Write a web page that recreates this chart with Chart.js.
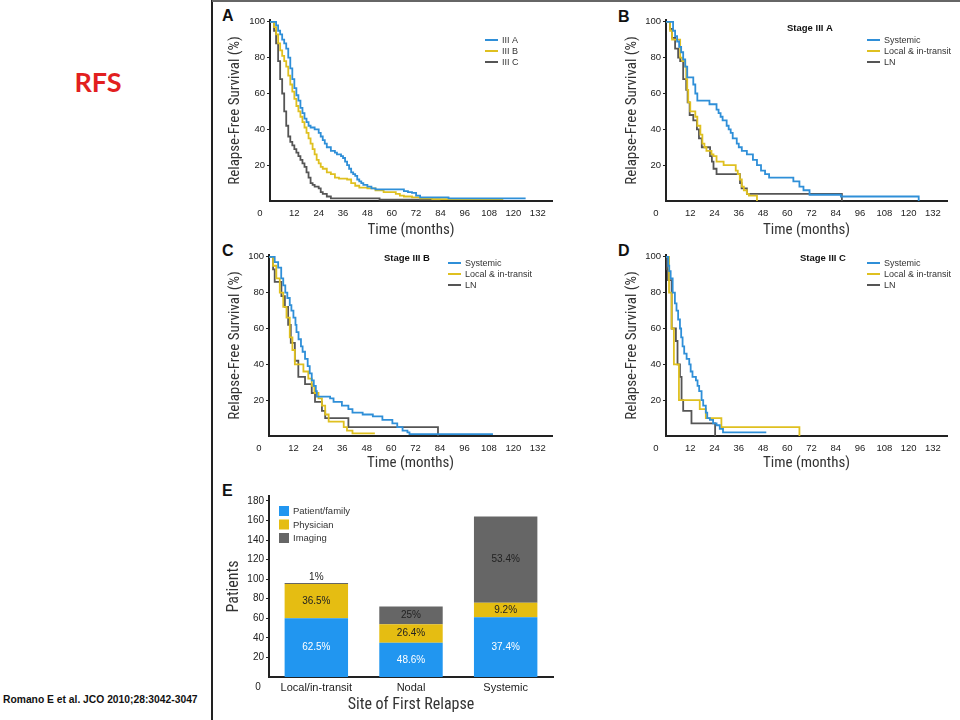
<!DOCTYPE html>
<html><head><meta charset="utf-8">
<script src="https://cdn.jsdelivr.net/npm/chart.js@4.4.0/dist/chart.umd.min.js"></script>
<style>
html,body{margin:0;padding:0;background:#fff;}
body{width:960px;height:720px;position:relative;overflow:hidden;font-family:'Liberation Sans',Arial,sans-serif;}
.cv{position:absolute;}
.lbl{position:absolute;font-weight:bold;font-size:16px;line-height:16px;color:#111;}
</style></head><body>
<div style="position:absolute;left:211px;top:0;width:1.5px;height:720px;background:#222"></div>
<div style="position:absolute;left:212px;top:0;width:748px;height:2px;background:#666"></div>
<div style="position:absolute;left:60px;top:66px;width:76px;text-align:center;font-family:Lato,'Liberation Sans',sans-serif;font-weight:bold;font-size:27px;line-height:32px;color:#e21f1f">RFS</div>
<div style="position:absolute;left:3px;top:693px;font-family:'Liberation Sans',Arial,sans-serif;font-weight:bold;font-size:10.3px;line-height:14px;color:#111;white-space:nowrap">Romano E et al. JCO 2010;28:3042-3047</div>
<div class="lbl" style="left:222px;top:8px">A</div>
<div class="lbl" style="left:618px;top:9px">B</div>
<div class="lbl" style="left:222px;top:243px">C</div>
<div class="lbl" style="left:618px;top:243px">D</div>
<div class="lbl" style="left:222px;top:483px">E</div>
<canvas id="cA" class="cv" width="345" height="240" style="left:215px;top:0px"></canvas>
<canvas id="cB" class="cv" width="360" height="240" style="left:600px;top:0px"></canvas>
<canvas id="cC" class="cv" width="345" height="240" style="left:215px;top:235px"></canvas>
<canvas id="cD" class="cv" width="360" height="240" style="left:600px;top:235px"></canvas>
<canvas id="cE" class="cv" width="345" height="245" style="left:215px;top:475px"></canvas>
<script>
// ---------- DATA ----------
const xTicks = [12,24,36,48,60,72,84,96,108,120,132];
const yTicksKM = [20,40,60,80,100];

// Panel A: by stage
const A_labels = ['III A','III B','III C'];
const A_IIIA_t = [0,3,4,5,6,7,8,9,10,11,12,13,14,15,16,17,18,19,20,22,24,25,26,27,28,30,32,33,35,36,37,38,39,40,41,42,43,44,45,46,48,50,52,66,68,70,72,74,88,126];
const A_IIIA_s = [100,98,95,93,90,88,85,80,74,68,63,59,56,52,49,46,44,42,41,40,38,36,34,32,30,28,27,26,25,24,22,20,18,16,15,14,12,11,10,9,8,7,6.5,5.5,5,4.5,3,2,1.5,1.5];
const A_IIIB_t = [0,2,3,4,5,6,7,8,9,10,11,12,13,14,15,16,17,18,19,20,21,22,23,24,25,26,28,30,32,34,38,40,42,44,48,52,56,62,64,66,70,74,80,115];
const A_IIIB_s = [100,97,93,88,84,81,78,75,70,65,61,57,53,50,47,44,41,38,35,32,29,26,23,21,19,18,16,15,13,12.5,12,10,8.5,7.5,7,6,5,4,3,2.5,2,1.5,1,1];
const A_IIIC_t = [0,2,3,4,5,6,7,8,9,10,11,12,13,14,15,16,17,18,19,20,21,22,24,25,26,28,30,52,54,84];
const A_IIIC_s = [100,95,88,78,68,60,50,42,36,33,31,29,27,25,23,21,19,16,13,10,9,8,7,5,4,2.5,1.5,1.5,0.8,0.8];

const siteLabels = ['Systemic','Local & in-transit','LN'];
// Panel B: Stage III A
const B_sys_t = [0,3.5,4.5,5.5,6.5,7.5,8.5,9.5,10.5,13.5,14.5,15.5,21.5,25,26,27,28,30,31,32,33,35,36,37.5,40,43,45,47,49,51,63,66,68,71,86.5,125];
const B_sys_s = [100,95,92,89,86,83,79,75,69,65,60,56,54,51,49,47,45,42,40,38,35,32,30,28,26,23,20,17,15,13,11,8,6,3.5,2.5,0];
const B_loc_t = [0,2,3,7,8,9.5,10,10.5,11,12,14.5,15.5,17,18,19,20,22.5,23.5,25,28.5,34.5,35.5,36.5,37.5,38.5,40,41,45];
const B_loc_s = [100,95,90,80,78,75,68,62,55,50,47,42,37,32,30,28,26,25,22,20,17,15,12,8,6,4,3,0];
const B_ln_t = [0,2,3,4.5,6,7,8.5,10,10.7,11.7,13.5,15.3,16.3,17.7,21.8,22.7,23.5,25,36.6,37.4,40,87];
const B_ln_s = [100,96,91,85,80,78,68,62,55,48,45,40,35,30,25,22,18,15,10,7,4,0];

// Panel C: Stage III B
const C_sys_t = [0,2.8,4.5,6,7,8,9,10.2,11,12,13,13.5,14.5,15.7,16.5,17.7,19,20,21,22,23,23.5,30,31.7,35.8,39,41,46,51,55.7,60.6,63,65.6,68,69,110];
const C_sys_s = [100,97,94,88,84,80,77,73,70,66,62,58,54,50,47,43,39,35,31,28,25,22,21,19,17,15,13,12,11,9,7,5,3,2,1,1];
const C_loc_t = [0,2,3.6,5.3,7,8.6,10.2,11.5,12.7,16.9,19.3,21,22.3,24.3,26,27.6,29.3,36.7,38.3,41,52];
const C_loc_s = [100,95,88,80,72,66,55,48,40,36,32,28,24,21,17,12,8,5,3,1.5,1.5];
const C_ln_t = [0,2,2.8,6.1,7.8,9.4,10.7,12.7,14.4,17.7,21,22.6,26,27.6,39,83];
const C_ln_s = [100,93,86,78,72,62,52,42,33,29,24,19,14,10,5,0];

// Panel D: Stage III C
const D_sys_t = [0,1.1,1.6,2.3,3.3,4.4,5.2,6,6.9,7.5,8.2,9,10.2,11.5,12.2,13.1,14.8,15.6,16.4,17.6,18.4,19.7,20.4,21.7,23.3,25,26.6,28.2,49.6];
const D_sys_s = [100,95,92,88,80,74,70,65,60,55,50,46,43,40,36,33,31,28,25,20,17,13,10,9,7,6,4,2,2];
const D_loc_t = [0,1.5,2.8,3.9,6.4,16.7,19.7,27.4,66];
const D_loc_s = [100,80,60,40,20,15,10,5,0];
const D_ln_t = [0,0.5,1,2.8,4.9,5.7,6.9,7.7,8.5,12.6,24.3];
const D_ln_s = [100,93,87,60,53,40,33,20,14,7,0];

// Panel E: detection method by site of first relapse
const E_categories = ['Local/in-transit','Nodal','Systemic'];
const E_seriesNames = ['Patient/family','Physician','Imaging'];
const E_patient = [60,35,61];
const E_physician = [35,19,15];
const E_imaging = [1,18,88];
const E_pctPatient = ['62.5%','48.6%','37.4%'];
const E_pctPhysician = ['36.5%','26.4%','9.2%'];
const E_pctImaging = ['1%','25%','53.4%'];
const E_yTicks = [20,40,60,80,100,120,140,160,180];

// ---------- STYLE ----------
const BLUE = '#2f8fd8', YELLOW = '#dfc020', GRAY = '#555555';
const TICK_FONT = {family:"'Liberation Sans', Arial, sans-serif", size:9.5};
const TITLE_FONT = {family:"'Liberation Sans Narrow', 'Roboto Condensed', 'DejaVu Sans Condensed', 'Liberation Sans', sans-serif", size:15};
const TXT = '#222';

function pts(t, s){ return t.map((v,i)=>({x:v, y:s[i]})); }

const kmDeco = {
  id:'kmDeco',
  afterDraw(chart, args, o){
    const ctx = chart.ctx, ca = chart.chartArea;
    const xs = chart.scales.x, ys = chart.scales.y;
    ctx.save();
    ctx.fillStyle = TXT;
    ctx.font = "9.5px 'Liberation Sans', Arial, sans-serif";
    ctx.textAlign='center'; ctx.textBaseline='middle';
    ctx.fillText('0', xs.getPixelForValue(0) - 10, ys.getPixelForValue(0) + 12);
    // legend
    ctx.font = "9px 'Liberation Sans', Arial, sans-serif";
    ctx.textAlign='left';
    chart.data.datasets.forEach((d,i)=>{
      const x0 = ca.right - o.legendDx, y0 = ca.top + o.legendDy + i*11;
      ctx.strokeStyle = d.borderColor; ctx.lineWidth = 2;
      ctx.beginPath(); ctx.moveTo(x0, y0); ctx.lineTo(x0+13, y0); ctx.stroke();
      ctx.fillStyle = '#333';
      ctx.fillText(d.label, x0+17, y0+0.5);
    });
    if (o.title){
      ctx.font = "bold 9.5px 'Liberation Sans', Arial, sans-serif";
      ctx.fillStyle = '#111'; ctx.textAlign='center';
      ctx.fillText(o.title, ca.left + o.titleDx, ca.top + o.titleDy);
    }
    ctx.restore();
  }
};

function makeKM(id, series, cfg){
  const datasets = series.map(s=>({
    label:s.label, data:pts(s.t, s.s), borderColor:s.color, backgroundColor:s.color,
    borderWidth:1.8, pointRadius:0, stepped:true, showLine:true, fill:false
  }));
  return new Chart(document.getElementById(id), {
    type:'scatter',
    data:{datasets},
    plugins:[kmDeco],
    options:{
      responsive:false, animation:false,
      layout:{padding:{left:0, right:cfg.padRight, top:20, bottom:0}},
      plugins:{legend:{display:false}, tooltip:{enabled:false}, kmDeco:cfg.deco},
      scales:{
        x:{type:'linear', min:0, max:cfg.xMax,
          afterBuildTicks:(a)=>{a.ticks = xTicks.map(v=>({value:v}));},
          afterFit:(a)=>{a.height = cfg.xH;},
          grid:{display:false, drawTicks:false},
          border:{display:true, color:'#222', width:2},
          ticks:{font:TICK_FONT, color:TXT, padding:7, maxRotation:0, autoSkip:false},
          title:{display:true, text:'Time (months)', font:TITLE_FONT, color:'#333', padding:{top:0,bottom:cfg.xTitlePad}}
        },
        y:{type:'linear', min:0, max:101,
          afterBuildTicks:(a)=>{a.ticks = yTicksKM.map(v=>({value:v}));},
          afterFit:(a)=>{a.width = cfg.yW;},
          grid:{display:true, drawOnChartArea:false, drawTicks:true, tickLength:3, color:'#222', lineWidth:1},
          border:{display:true, color:'#222', width:2},
          ticks:{font:TICK_FONT, color:TXT, padding:2},
          title:{display:true, text:'Relapse-Free Survival (%)', font:TITLE_FONT, color:'#333', padding:{top:cfg.yTitlePad,bottom:0}}
        }
      }
    }
  });
}

makeKM('cA', [
  {label:A_labels[0], t:A_IIIA_t, s:A_IIIA_s, color:BLUE},
  {label:A_labels[1], t:A_IIIB_t, s:A_IIIB_s, color:YELLOW},
  {label:A_labels[2], t:A_IIIC_t, s:A_IIIC_s, color:GRAY}
], {xMax:139, padRight:8, xH:39, yW:55, xTitlePad:1, yTitlePad:11, deco:{legendDx:67, legendDy:20}});

makeKM('cB', [
  {label:siteLabels[0], t:B_sys_t, s:B_sys_s, color:BLUE},
  {label:siteLabels[1], t:B_loc_t, s:B_loc_s, color:YELLOW},
  {label:siteLabels[2], t:B_ln_t, s:B_ln_s, color:GRAY}
], {xMax:139, padRight:13, xH:39, yW:66, xTitlePad:1, yTitlePad:23, deco:{legendDx:80, legendDy:20, title:'Stage III A', titleDx:144, titleDy:8}});

makeKM('cC', [
  {label:siteLabels[0], t:C_sys_t, s:C_sys_s, color:BLUE},
  {label:siteLabels[1], t:C_loc_t, s:C_loc_s, color:YELLOW},
  {label:siteLabels[2], t:C_ln_t, s:C_ln_s, color:GRAY}
], {xMax:139, padRight:8, xH:39, yW:54, xTitlePad:3, yTitlePad:11, deco:{legendDx:104, legendDy:8, title:'Stage III B', titleDx:138, titleDy:3}});

makeKM('cD', [
  {label:siteLabels[0], t:D_sys_t, s:D_sys_s, color:BLUE},
  {label:siteLabels[1], t:D_loc_t, s:D_loc_s, color:YELLOW},
  {label:siteLabels[2], t:D_ln_t, s:D_ln_s, color:GRAY}
], {xMax:139, padRight:13, xH:39, yW:66, xTitlePad:3, yTitlePad:23, deco:{legendDx:80, legendDy:8, title:'Stage III C', titleDx:157, titleDy:3}});

// ---------- Panel E ----------
const E_COLORS = ['#2196f0','#e5bd12','#666666'];
const E_PCTS = [E_pctPatient, E_pctPhysician, E_pctImaging];
const barDeco = {
  id:'barDeco',
  afterDraw(chart){
    const ctx = chart.ctx, ca = chart.chartArea;
    const xs = chart.scales.x, ys = chart.scales.y;
    ctx.save();
    ctx.textAlign='center'; ctx.textBaseline='middle';
    ctx.font = "10px 'Liberation Sans', Arial, sans-serif";
    ctx.fillStyle = TXT;
    ctx.fillText('0', ca.left - 11, ys.getPixelForValue(0) + 10);
    chart.data.datasets.forEach((d,di)=>{
      const meta = chart.getDatasetMeta(di);
      meta.data.forEach((el,i)=>{
        const h = Math.abs(el.base - el.y);
        let y = (el.y + el.base)/2;
        if (h < 10) y = el.y - 6;
        ctx.fillStyle = (di===0) ? '#ffffff' : '#222';
        ctx.fillText(E_PCTS[di][i], el.x, y);
      });
    });
    // legend
    ctx.textAlign='left';
    ctx.font = "9.5px 'Liberation Sans', Arial, sans-serif";
    chart.data.datasets.forEach((d,di)=>{
      const x0 = ca.left + 10, yc = ca.top + 15 + di*13.5;
      ctx.fillStyle = d.backgroundColor;
      ctx.fillRect(x0, yc-5, 10, 10);
      ctx.fillStyle = '#333';
      ctx.fillText(d.label, x0 + 14, yc + 0.5);
    });
    ctx.restore();
  }
};

new Chart(document.getElementById('cE'), {
  type:'bar',
  data:{labels:E_categories, datasets:[
    {label:E_seriesNames[0], data:E_patient, backgroundColor:E_COLORS[0]},
    {label:E_seriesNames[1], data:E_physician, backgroundColor:E_COLORS[1]},
    {label:E_seriesNames[2], data:E_imaging, backgroundColor:E_COLORS[2]}
  ]},
  plugins:[barDeco],
  options:{
    responsive:false, animation:false,
    layout:{padding:{left:0, right:7, top:21, bottom:0}},
    datasets:{bar:{barPercentage:0.67, categoryPercentage:1, borderWidth:0}},
    plugins:{legend:{display:false}, tooltip:{enabled:false}},
    scales:{
      x:{stacked:true,
        afterFit:(a)=>{a.height = 43;},
        grid:{display:false, drawTicks:false},
        border:{display:true, color:'#222', width:2},
        ticks:{font:{family:"'Liberation Sans', Arial, sans-serif", size:11}, color:TXT, padding:4},
        title:{display:true, text:'Site of First Relapse', font:{...TITLE_FONT, size:16}, color:'#333', padding:{top:0,bottom:5}}
      },
      y:{stacked:true, min:0, max:185,
        afterBuildTicks:(a)=>{a.ticks = E_yTicks.map(v=>({value:v}));},
        afterFit:(a)=>{a.width = 54;},
        grid:{display:true, drawOnChartArea:false, drawTicks:true, tickLength:3, color:'#222'},
        border:{display:true, color:'#222', width:2},
        ticks:{font:{family:"'Liberation Sans', Arial, sans-serif", size:10}, color:TXT, padding:2},
        title:{display:true, text:'Patients', font:{...TITLE_FONT, size:16}, color:'#333', padding:{top:9,bottom:0}}
      }
    }
  }
});
</script>
</body></html>
